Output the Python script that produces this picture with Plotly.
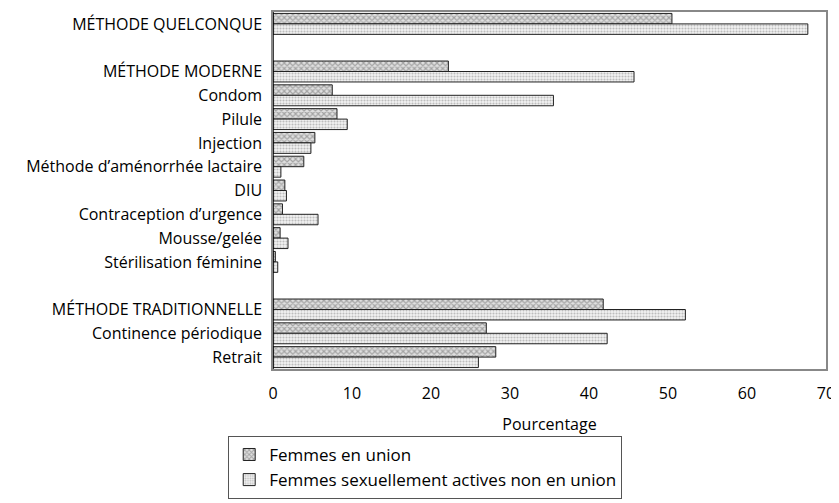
import plotly.graph_objects as go

categories = ["MÉTHODE QUELCONQUE", " ",
              "MÉTHODE MODERNE", "Condom", "Pilule", "Injection",
              "Méthode d’aménorrhée lactaire", "DIU", "Contraception d’urgence",
              "Mousse/gelée", "Stérilisation féminine", "  ",
              "MÉTHODE TRADITIONNELLE", "Continence périodique", "Retrait"]
en_union = [50.5, None, 22.2, 7.5, 8.1, 5.3, 3.9, 1.5, 1.2, 0.9, 0.3, None, 41.8, 27.0, 28.2]
actives_non_union = [67.7, None, 45.7, 35.5, 9.4, 4.8, 1.0, 1.7, 5.7, 1.9, 0.6, None, 52.2, 42.3, 26.0]
x_ticks = [0, 10, 20, 30, 40, 50, 60, 70]

fnt = "'Open Sans', sans-serif"

fig = go.Figure()
fig.add_bar(y=categories, x=en_union, orientation="h", name="Femmes en union",
            marker=dict(color="white", line=dict(color="#222", width=1),
                        pattern=dict(shape="x", fgcolor="#666", bgcolor="#e0e0e0", size=4, solidity=0.5)))
fig.add_bar(y=categories, x=actives_non_union, orientation="h", name="Femmes sexuellement actives non en union",
            marker=dict(color="white", line=dict(color="#222", width=1),
                        pattern=dict(shape=".", fgcolor="#888", bgcolor="#f2f2f2", size=3, solidity=0.4)))

fig.add_shape(type="line", xref="x", yref="paper", x0=0, x1=0, y0=0, y1=1,
              line=dict(color="black", width=1.5))

# the page body adds an 8px margin, so the figure is drawn 8px smaller
fig.update_layout(
    width=831, height=495,
    margin=dict(l=265, r=13, t=4, b=134),
    paper_bgcolor="white", plot_bgcolor="white",
    font=dict(family=fnt, size=16, color="black"),
    barmode="group", bargap=0.12, bargroupgap=0,
    showlegend=True,
    # anchored at the bottom so the legend does not push the bottom margin
    legend=dict(x=-0.081, y=-0.364, xanchor="left", yanchor="bottom",
                bgcolor="white", bordercolor="#555", borderwidth=1,
                font=dict(size=17), traceorder="normal", itemwidth=30),
)
fig.update_xaxes(range=[0, 70], tickvals=x_ticks, showgrid=False, zeroline=False,
                 showline=True, linecolor="#888", linewidth=1.5, mirror=True,
                 ticks="", ticklabelstandoff=9, automargin=False,
                 title=dict(text="Pourcentage", font=dict(size=16), standoff=16))
fig.update_yaxes(type="category", categoryorder="array", categoryarray=categories,
                 autorange="reversed", showgrid=False, zeroline=False,
                 showline=True, linecolor="#888", linewidth=1.5, mirror=True,
                 ticks="", ticklabelstandoff=6, automargin=False)

fig.write_html("out.html")
